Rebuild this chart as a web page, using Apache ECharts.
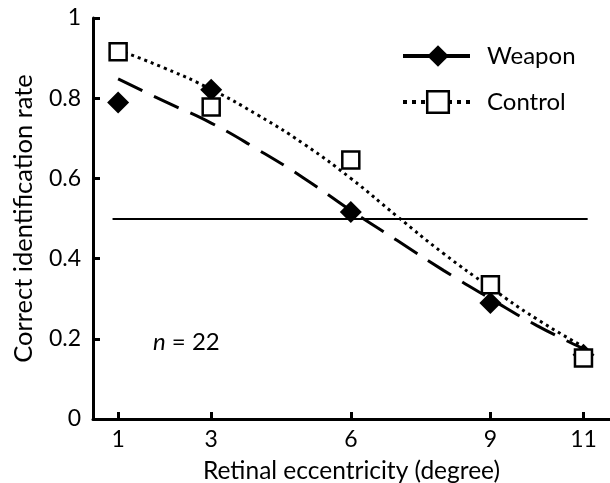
<!DOCTYPE html>
<html>
<head>
<meta charset="utf-8">
<script src="https://cdn.jsdelivr.net/npm/echarts@6/dist/echarts.min.js"></script>
<style>html,body{margin:0;padding:0;background:#fff}#c{width:610px;height:483px}</style>
</head>
<body>
<div id="c"></div>
<script>
// Observed data
const eccentricities = [1, 3, 6, 9, 11];
const weaponObserved = [0.789, 0.821, 0.516, 0.289, 0.16];
const controlObserved = [0.916, 0.778, 0.646, 0.335, 0.152];
// Fitted curves
const curveX = [1, 2, 3, 4, 5, 6, 7, 8, 9, 10, 11];
const weaponFit = [0.848, 0.792, 0.738, 0.672, 0.600, 0.520, 0.445, 0.370, 0.300, 0.233, 0.175];
const controlFit = [0.920, 0.875, 0.822, 0.758, 0.685, 0.600, 0.505, 0.412, 0.328, 0.249, 0.180];
const xTicks = [1, 3, 6, 9, 11];
const chanceLevel = 0.5;
const chanceRange = [0.88, 11.09];

const FONT = 'Lato';
const pair = (xs, ys) => xs.map((x, i) => [x, ys[i]]);

const weaponLine = {color: '#000', width: 3, type: [27, 13]};
const controlLine = {color: '#000', width: 3, type: [3, 4]};
const weaponItem = {color: '#000', opacity: 1};
const controlItem = {color: '#fff', borderColor: '#000', borderWidth: 2.5, opacity: 1};

const chart = echarts.init(document.getElementById('c'));
chart.setOption({
  animation: false,
  textStyle: {fontFamily: FONT, color: '#000'},
  grid: {left: 93, right: 0, top: 18, bottom: 64, containLabel: false, outerBoundsMode: 'none'},
  legend: {
    orient: 'vertical', left: 396, top: 39,
    itemWidth: 70, itemHeight: 27, itemGap: 22,
    data: [
      {name: 'Weapon', lineStyle: {color: '#000', width: 4, type: [27, 13]}, itemStyle: weaponItem},
      {name: 'Control', lineStyle: {color: '#000', width: 4, type: [4, 5]}, itemStyle: controlItem}
    ],
    textStyle: {fontFamily: FONT, fontSize: 24, color: '#000', padding: [0, 0, 0, 9]}
  },
  xAxis: {
    type: 'value', min: 0.46, max: 11.57,
    name: 'Retinal eccentricity (degree)', nameLocation: 'middle', nameGap: 40,
    nameTextStyle: {fontFamily: FONT, fontSize: 24.5, color: '#000'},
    axisLine: {lineStyle: {color: '#000', width: 3}},
    axisTick: {inside: true, length: 7, lineStyle: {width: 3, color: '#000'}, customValues: xTicks},
    axisLabel: {customValues: xTicks, fontFamily: FONT, fontSize: 23, color: '#000', margin: 9},
    splitLine: {show: false}
  },
  yAxis: {
    type: 'value', min: 0, max: 1, interval: 0.2,
    name: 'Correct identification rate', nameLocation: 'middle', nameGap: 56,
    nameTextStyle: {fontFamily: FONT, fontSize: 25.5, color: '#000'},
    axisLine: {show: true, lineStyle: {color: '#000', width: 3}},
    axisTick: {show: true, inside: true, length: 7, lineStyle: {width: 3, color: '#000'}},
    axisLabel: {fontFamily: FONT, fontSize: 23, color: '#000', margin: 12},
    splitLine: {show: false}
  },
  graphic: [{
    type: 'text', left: 153, top: 330,
    style: {
      text: '{i|n} = 22',
      rich: {i: {fontStyle: 'italic', fontFamily: FONT, fontSize: 24, fill: '#000'}},
      font: '24px ' + FONT, fill: '#000'
    }
  }],
  series: [
    {
      name: 'Weapon', type: 'line', data: pair(curveX, weaponFit), smooth: true,
      symbol: 'diamond', showSymbol: false, z: 2,
      lineStyle: weaponLine, itemStyle: weaponItem,
      markLine: {
        silent: true, symbol: ['none', 'none'], label: {show: false},
        lineStyle: {color: '#000', width: 2, type: 'solid'},
        data: [[{coord: [chanceRange[0], chanceLevel]}, {coord: [chanceRange[1], chanceLevel]}]]
      }
    },
    {
      name: 'Control', type: 'line', data: pair(curveX, controlFit), smooth: true,
      symbol: 'rect', showSymbol: false, z: 2,
      lineStyle: controlLine, itemStyle: controlItem
    },
    {
      name: 'Weapon', type: 'scatter', data: pair(eccentricities, weaponObserved),
      symbol: 'diamond', symbolSize: 22, z: 5, itemStyle: weaponItem
    },
    {
      name: 'Control', type: 'scatter', data: pair(eccentricities, controlObserved),
      symbol: 'rect', symbolSize: 17, z: 6, itemStyle: controlItem
    }
  ]
});
</script>
</body>
</html>
